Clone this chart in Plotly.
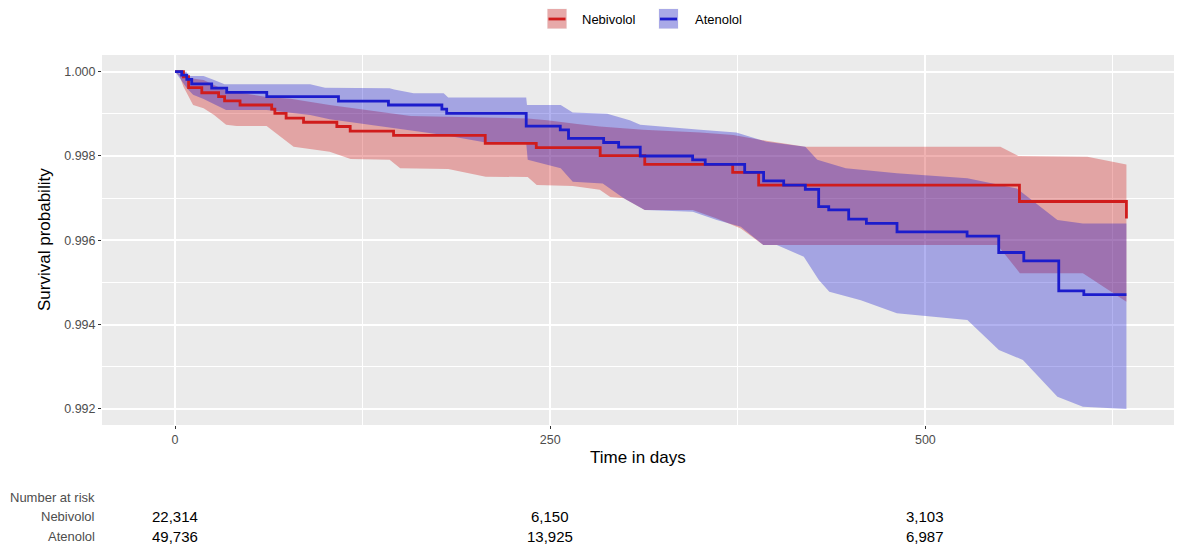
import plotly.graph_objects as go

# ---- Kaplan-Meier estimates (time in days) ----
neb_time = [0, 5.6, 9, 17.8, 29, 33, 43.3, 64.4, 66.5, 74, 85.6, 107.8, 116.7, 145.6,
            206.7, 240.7, 283.3, 313, 371.6, 388.9, 562.7, 634]
neb_surv = [1.0, 0.99988, 0.99962, 0.99950, 0.99941, 0.99931, 0.99921, 0.99911, 0.99901,
            0.99890, 0.99880, 0.99870, 0.99859, 0.99849, 0.99830, 0.99820, 0.99801,
            0.99780, 0.99761, 0.99731, 0.99692, 0.99652]

ate_time = [0, 4.4, 7.8, 11.1, 24.4, 34.4, 61.1, 108.9, 142.2, 177.8, 181, 234, 256.7,
            262.2, 285.6, 295.6, 310, 344.9, 353.3, 379.6, 392.2, 405.6, 420, 428.9,
            435.6, 448.9, 460.7, 481.1, 527.8, 548.9, 565.6, 588.9, 605.6, 634]
ate_surv = [1.0, 0.99992, 0.99982, 0.99971, 0.99961, 0.99951, 0.99941, 0.99930, 0.99921,
            0.99911, 0.99901, 0.99871, 0.99862, 0.99842, 0.99832, 0.99821, 0.99800,
            0.99791, 0.99780, 0.99761, 0.99741, 0.99731, 0.99721, 0.99680, 0.99672,
            0.99650, 0.99640, 0.99620, 0.99610, 0.99571, 0.99551, 0.99480, 0.99471,
            0.99471]

# ---- 95% confidence limits ----
neb_upper_t = [0, 4, 9, 19, 34, 61, 77, 103, 146, 157, 235, 248, 268, 283, 312, 350, 372,
               394, 420, 550, 562, 608, 634]
neb_upper = [1.0, 0.99993, 0.99985, 0.99980, 0.99955, 0.99940, 0.99936, 0.99921, 0.99901,
             0.99895, 0.99889, 0.99885, 0.99876, 0.99870, 0.99862, 0.99856, 0.99850,
             0.99836, 0.99822, 0.99822, 0.99800, 0.99798, 0.99780]
neb_lower_t = [0, 3, 5.6, 9, 12, 19, 26, 34, 41, 61, 79, 103, 117, 143, 150, 182, 207, 235,
               241, 265, 283, 290, 299, 313, 345, 361, 377, 392, 548, 563, 605, 634]
neb_lower = [1.0, 0.9999, 0.99964, 0.99941, 0.99921, 0.99913, 0.99897, 0.99874, 0.99871,
             0.99871, 0.99822, 0.99810, 0.99793, 0.99791, 0.99771, 0.99769, 0.99751,
             0.99750, 0.99731, 0.99729, 0.99720, 0.99703, 0.99700, 0.99672, 0.99672,
             0.99652, 0.99628, 0.99589, 0.99589, 0.99522, 0.99522, 0.99454]

ate_upper_t = [0, 7.8, 8, 19, 26, 33, 90, 100, 143, 146, 159, 179, 182, 234, 234.5, 257,
               265, 288, 303, 310, 350, 374, 394, 420, 428, 447, 481, 528, 561, 588, 605,
               634]
ate_upper = [1.0, 1.0, 0.9999, 0.9999, 0.9998, 0.9997, 0.9997, 0.99962, 0.99961, 0.99958,
             0.99949, 0.99949, 0.99939, 0.99939, 0.99921, 0.99921, 0.99903, 0.99900,
             0.99885, 0.99874, 0.99862, 0.99856, 0.99834, 0.99822, 0.99791, 0.99771,
             0.99759, 0.99747, 0.99723, 0.99648, 0.99640, 0.99640]
ate_lower_t = [0, 4, 8, 12, 19, 34, 61, 90, 103, 115, 143, 159, 179, 207, 234, 235, 243,
               257, 265, 285, 299, 313, 345, 361, 377, 392, 401, 419, 429, 436, 457, 481,
               528, 549, 565, 588, 605, 634]
ate_lower = [1.0, 0.9998, 0.9996, 0.99945, 0.99935, 0.99909, 0.99909, 0.99897, 0.99887,
             0.99882, 0.99868, 0.99860, 0.99850, 0.99832, 0.99830, 0.99791, 0.99783,
             0.99771, 0.99739, 0.99735, 0.99700, 0.99672, 0.99668, 0.99648, 0.99632,
             0.99589, 0.99589, 0.99561, 0.99506, 0.99478, 0.99458, 0.99427, 0.99411,
             0.99340, 0.99316, 0.99229, 0.99205, 0.99200]

# ---- Number at risk table ----
risk_times = [0, 250, 500]
neb_at_risk = [22314, 6150, 3103]
ate_at_risk = [49736, 13925, 6987]
group_names = ["Nebivolol", "Atenolol"]

# ---- styling ----
RED_LINE = "#D01C1C"
BLUE_LINE = "#1C1CCC"
RED_FILL = "rgba(204,0,0,0.3)"
BLUE_FILL = "rgba(0,0,204,0.3)"
FONT = "Liberation Sans, Arial, sans-serif"

W, H = 1177, 552
ML, MR, MT, MB = 102, 3, 55, 127
PW, PH = W - ML - MR, H - MT - MB


def px_x(X):
    return (X - ML) / PW


def px_y(Y):
    return (H - MB - Y) / PH


fig = go.Figure()


def band(t_up, up, t_lo, lo, color):
    fig.add_trace(go.Scatter(
        x=list(t_up) + list(t_lo)[::-1],
        y=list(up) + list(lo)[::-1],
        mode="lines", fill="toself", fillcolor=color,
        line=dict(width=0), hoverinfo="skip", showlegend=False))


band(neb_upper_t, neb_upper, neb_lower_t, neb_lower, RED_FILL)
band(ate_upper_t, ate_upper, ate_lower_t, ate_lower, BLUE_FILL)

fig.add_trace(go.Scatter(x=neb_time, y=neb_surv, mode="lines", name=group_names[0],
                         line=dict(color=RED_LINE, width=2.8, shape="hv"),
                         showlegend=False))
fig.add_trace(go.Scatter(x=ate_time, y=ate_surv, mode="lines", name=group_names[1],
                         line=dict(color=BLUE_LINE, width=2.8, shape="hv"),
                         showlegend=False))

axis_common = dict(
    ticks="outside", ticklen=3, tickwidth=1, tickcolor="#333333",
    showgrid=True, gridcolor="white", gridwidth=1.6,
    zeroline=False, showline=False,
    tickfont=dict(family=FONT, size=12.5, color="#4D4D4D"),
)

fig.update_xaxes(range=[-48.7, 665.7], tickvals=[0, 250, 500],
                 ticktext=["0", "250", "500"],
                 minor=dict(tickvals=[125, 375, 625], showgrid=True,
                            gridcolor="white", gridwidth=0.8, ticks=""),
                 **axis_common)
fig.update_yaxes(range=[0.991618, 1.000396],
                 tickvals=[0.992, 0.994, 0.996, 0.998, 1.0],
                 ticktext=["0.992", "0.994", "0.996", "0.998", "1.000"],
                 minor=dict(tickvals=[0.993, 0.995, 0.997, 0.999], showgrid=True,
                            gridcolor="white", gridwidth=0.8, ticks=""),
                 **axis_common)

annotations = [
    dict(text="Survival probability", xref="paper", yref="paper",
         x=px_x(44), y=0.5, textangle=-90, showarrow=False,
         xanchor="center", yanchor="middle",
         font=dict(family=FONT, size=17, color="black")),
    dict(text="Time in days", xref="paper", yref="paper",
         x=0.5, y=px_y(457.5), showarrow=False,
         xanchor="center", yanchor="middle",
         font=dict(family=FONT, size=17, color="black")),
    dict(text="Number at risk", xref="paper", yref="paper",
         x=px_x(97), y=px_y(497), showarrow=False,
         xanchor="right", yanchor="middle",
         font=dict(family=FONT, size=13, color="#4D4D4D")),
]

row_y = [516.5, 536]
for name, counts, ry in zip(group_names, [neb_at_risk, ate_at_risk], row_y):
    annotations.append(dict(text=name, xref="paper", yref="paper",
                            x=px_x(97), y=px_y(ry), showarrow=False,
                            xanchor="right", yanchor="middle",
                            font=dict(family=FONT, size=13, color="#4D4D4D")))
    for t, n in zip(risk_times, counts):
        annotations.append(dict(text=f"{n:,}", xref="x", yref="paper",
                                x=t, y=px_y(ry), showarrow=False,
                                xanchor="center", yanchor="middle",
                                font=dict(family=FONT, size=15, color="black")))

# legend drawn at the top: key box with ribbon fill and a line through it
shapes = []
legend_items = [(group_names[0], RED_FILL, RED_LINE, 547, 580),
                (group_names[1], BLUE_FILL, BLUE_LINE, 658.5, 693)]
for name, fill, line, kx, tx in legend_items:
    shapes.append(dict(type="rect", xref="paper", yref="paper",
                       x0=px_x(kx), x1=px_x(kx + 20), y0=px_y(29), y1=px_y(8.5),
                       fillcolor="#F2F2F2", line=dict(width=0), layer="above"))
    shapes.append(dict(type="rect", xref="paper", yref="paper",
                       x0=px_x(kx + 0.5), x1=px_x(kx + 19.5), y0=px_y(28.5), y1=px_y(9),
                       fillcolor=fill, line=dict(width=0), layer="above"))
    shapes.append(dict(type="line", xref="paper", yref="paper",
                       x0=px_x(kx + 1.5), x1=px_x(kx + 18.5), y0=px_y(19), y1=px_y(19),
                       line=dict(color=line, width=2.8), layer="above"))
    annotations.append(dict(text=name, xref="paper", yref="paper",
                            x=px_x(tx), y=px_y(19.5), showarrow=False,
                            xanchor="left", yanchor="middle",
                            font=dict(family=FONT, size=13, color="black")))

fig.update_layout(
    width=W, height=H,
    margin=dict(l=ML, r=MR, t=MT, b=MB),
    paper_bgcolor="white", plot_bgcolor="#EBEBEB",
    showlegend=False,
    annotations=annotations, shapes=shapes,
    font=dict(family=FONT),
)

fig.write_html("out.html")
